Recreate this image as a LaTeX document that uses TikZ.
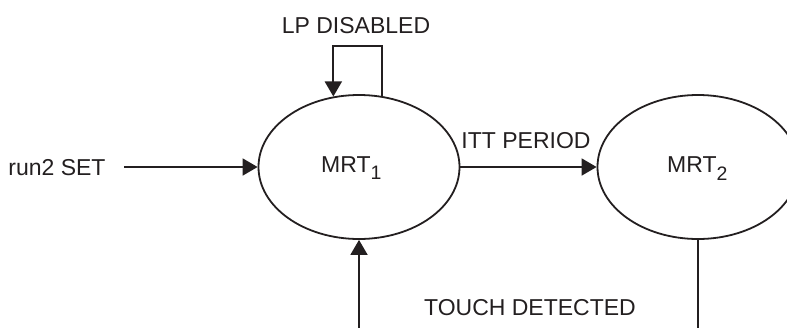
\documentclass[tikz,border=0pt]{standalone}
\usepackage{fontspec}
\setmainfont{Liberation Sans}
\usetikzlibrary{shapes.geometric,arrows.meta}
\definecolor{ink}{HTML}{231F20}
\newcommand{\subidx}[1]{\raisebox{-7.5pt}{\fontsize{19.5}{22}\selectfont #1}}
\tikzset{
  state/.style={draw=ink,ellipse,line width=1.8pt,minimum width=201pt,minimum height=144pt,inner sep=0pt},
  txt/.style={inner sep=0pt,anchor=base,text=ink,font=\fontsize{23}{26}\selectfont},
  arr/.style={draw=ink,line width=1.8pt,-{Triangle[length=15pt,width=17pt]}},
  wire/.style={draw=ink,line width=1.8pt}
}
\begin{document}
\begin{tikzpicture}[x=1pt,y=-1pt]
\useasboundingbox (0,0) rectangle (787,327);
\clip (0,0) rectangle (787,327);
% states
\node[state] (m1) at (359,167) {};
\node[state] (m2) at (698,167) {};
\node[txt,anchor=base west] (t1) at (321,172) {MRT\subidx{1}};
\node[txt,anchor=base west] (t2) at (667,172.5) {MRT\subidx{2}};
% labels
\node[txt] (run) at (57,175) {run2 SET};
\node[txt] (lp) at (356,33.5) {LP DISABLED};
\node[txt] (itt) at (526,148) {ITT PERIOD};
\node[txt] (touch) at (530,315) {TOUCH DETECTED};
% connectors
\coordinate (c1) at (124,167);
\coordinate (b1) at (359,330);
\coordinate (b2) at (698,330);
\draw[arr] (c1) -- (m1.west);
\draw[arr] (m1.east) -- (m2.west);
\draw[arr] (m1.72.6) -- ++(0,-49.7) -| (m1.110.5);
\draw[arr] (b1) -- (m1.south);
\draw[wire] (m2.south) -- (b2);
\end{tikzpicture}
\end{document}
